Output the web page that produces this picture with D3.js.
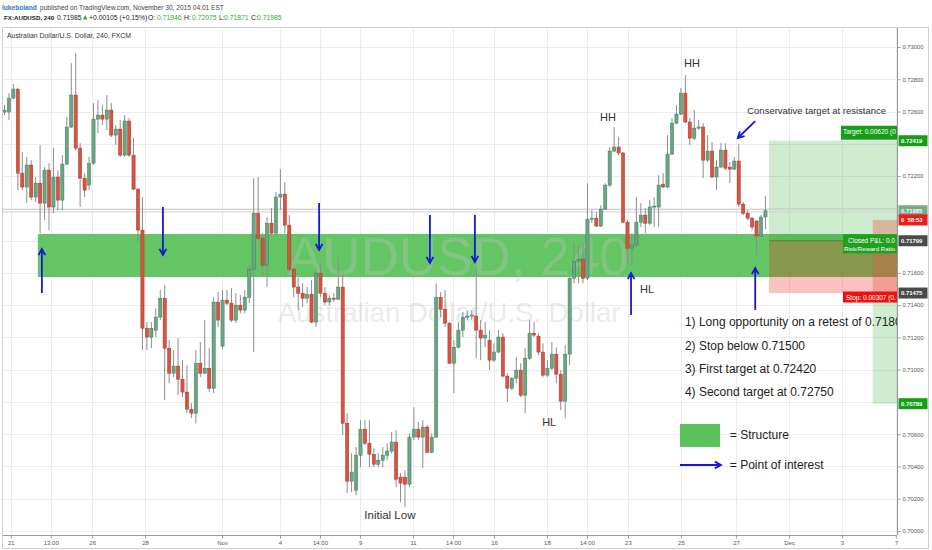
<!DOCTYPE html>
<html>
<head>
<meta charset="utf-8">
<script src="https://cdn.jsdelivr.net/npm/d3@7"></script>
<style>
body { margin: 0; background: #fff; }
svg { display: block; font-family: "Liberation Sans", Arial, sans-serif; }
</style>
</head>
<body>
<div id="chart"></div>
<script>

// AUDUSD 240 candles (bar index 0 = first visible bar)
const opens = [0.72597,0.72597,0.72683,0.72739,0.72218,0.72132,0.72268,0.72070,0.72156,0.72032,0.72237,0.72008,0.72194,0.72051,0.72274,0.72504,0.72702,0.72373,0.72187,0.72144,0.72280,0.72553,0.72578,0.72553,0.72609,0.72454,0.72491,0.72330,0.72541,0.72330,0.72119,0.71865,0.71257,0.71202,0.71245,0.71326,0.71443,0.71133,0.70978,0.71022,0.70941,0.70861,0.70755,0.70730,0.71040,0.70978,0.71009,0.70885,0.71419,0.71146,0.71431,0.71412,0.71307,0.71400,0.71369,0.71449,0.71623,0.71970,0.71815,0.71648,0.71908,0.71846,0.72070,0.72088,0.71896,0.71623,0.71512,0.71474,0.71443,0.71468,0.71295,0.71598,0.71474,0.71419,0.71443,0.71437,0.71512,0.70668,0.70309,0.70253,0.70470,0.70631,0.70544,0.70476,0.70414,0.70439,0.70470,0.70495,0.70551,0.70334,0.70334,0.70290,0.70582,0.70631,0.70582,0.70644,0.70488,0.70582,0.71449,0.71375,0.71288,0.71040,0.71139,0.71245,0.71326,0.71332,0.71332,0.71245,0.71196,0.71183,0.71059,0.71109,0.71202,0.70960,0.70885,0.70947,0.70997,0.70842,0.71071,0.71226,0.71208,0.71109,0.70966,0.71009,0.71096,0.70972,0.70805,0.71096,0.71567,0.71673,0.71685,0.71567,0.71933,0.71939,0.71890,0.71995,0.72144,0.72355,0.72380,0.72343,0.71914,0.71753,0.71772,0.71914,0.71958,0.71908,0.72008,0.72008,0.72150,0.72132,0.72336,0.72528,0.72584,0.72714,0.72535,0.72435,0.72497,0.72504,0.72299,0.72355,0.72194,0.72256,0.72361,0.72256,0.72243,0.72293,0.72026,0.71970,0.71939,0.71921,0.71828,0.71946];
const highs = [0.72640,0.72714,0.72770,0.72745,0.72349,0.72318,0.72299,0.72194,0.72392,0.72256,0.72280,0.72373,0.72237,0.72330,0.72566,0.72900,0.72962,0.72404,0.72218,0.72318,0.72652,0.72671,0.72640,0.72702,0.72652,0.72516,0.72547,0.72578,0.72559,0.72435,0.72125,0.72070,0.71295,0.71295,0.71381,0.71493,0.71524,0.71183,0.71121,0.71195,0.71059,0.71028,0.70792,0.71121,0.71171,0.71307,0.71133,0.71449,0.71481,0.71493,0.71493,0.71505,0.71474,0.71462,0.71493,0.71660,0.72187,0.72194,0.71846,0.71946,0.72001,0.72101,0.72243,0.72163,0.71958,0.71636,0.71574,0.71536,0.71512,0.71555,0.71629,0.71660,0.71512,0.71462,0.71474,0.71698,0.71598,0.70730,0.70482,0.70520,0.70687,0.70687,0.70687,0.70513,0.70482,0.70520,0.70544,0.70613,0.70625,0.70359,0.70377,0.70606,0.70767,0.70675,0.70687,0.70656,0.70606,0.71536,0.71481,0.71493,0.71295,0.71183,0.71295,0.71357,0.71363,0.71369,0.71617,0.71307,0.71295,0.71245,0.71164,0.71245,0.71226,0.70978,0.70954,0.71078,0.71040,0.71133,0.71307,0.71295,0.71226,0.71164,0.71059,0.71171,0.71139,0.70997,0.71152,0.71574,0.71784,0.71772,0.71784,0.72156,0.71989,0.71977,0.72020,0.72156,0.72380,0.72504,0.72442,0.72349,0.71927,0.71846,0.72070,0.72032,0.72001,0.72051,0.72070,0.72206,0.72218,0.72454,0.72559,0.72640,0.72745,0.72826,0.72559,0.72609,0.72547,0.72528,0.72454,0.72411,0.72299,0.72404,0.72404,0.72287,0.72318,0.72398,0.72039,0.71989,0.71946,0.71927,0.71958,0.72075];
const lows = [0.72578,0.72547,0.72680,0.72113,0.72113,0.72032,0.72051,0.72039,0.71846,0.71927,0.71865,0.71970,0.71989,0.71989,0.72268,0.72497,0.72361,0.72008,0.72070,0.72113,0.72268,0.72466,0.72516,0.72485,0.72442,0.72392,0.72318,0.72318,0.72318,0.72113,0.71791,0.71121,0.71121,0.71133,0.71202,0.71307,0.70811,0.70916,0.70954,0.70842,0.70830,0.70730,0.70699,0.70668,0.70954,0.70975,0.70861,0.70855,0.71264,0.71127,0.71400,0.71295,0.71288,0.71350,0.71350,0.71412,0.71109,0.71803,0.71574,0.71512,0.71834,0.71834,0.71989,0.71846,0.71605,0.71449,0.71369,0.71388,0.71412,0.71288,0.71264,0.71449,0.71400,0.71400,0.71419,0.71431,0.70594,0.70234,0.70241,0.70222,0.70396,0.70532,0.70396,0.70396,0.70396,0.70396,0.70439,0.70482,0.70272,0.70179,0.70148,0.70272,0.70563,0.70563,0.70390,0.70482,0.70482,0.70576,0.71326,0.71264,0.71034,0.70855,0.71133,0.71202,0.71307,0.71307,0.71071,0.71059,0.71139,0.70997,0.71047,0.71102,0.70954,0.70799,0.70873,0.70916,0.70830,0.70730,0.71059,0.71202,0.71090,0.70954,0.70954,0.70997,0.70916,0.70749,0.70699,0.71028,0.71536,0.71536,0.71536,0.71555,0.71908,0.71884,0.71884,0.71989,0.72132,0.72349,0.72330,0.71908,0.71660,0.71648,0.71760,0.71884,0.71846,0.71896,0.71884,0.71884,0.72125,0.72125,0.72330,0.72522,0.72578,0.72528,0.72392,0.72423,0.72485,0.72187,0.72287,0.72187,0.72113,0.72249,0.72237,0.72156,0.72237,0.72008,0.71958,0.71927,0.71865,0.71710,0.71822,0.71871];
const closes = [0.72609,0.72683,0.72739,0.72218,0.72132,0.72268,0.72070,0.72156,0.72032,0.72237,0.72008,0.72194,0.72051,0.72274,0.72504,0.72702,0.72373,0.72187,0.72113,0.72280,0.72553,0.72578,0.72553,0.72609,0.72454,0.72491,0.72330,0.72541,0.72330,0.72119,0.71865,0.71257,0.71202,0.71257,0.71326,0.71443,0.71133,0.70978,0.71022,0.70941,0.70861,0.70755,0.70730,0.71040,0.70978,0.71009,0.70885,0.71419,0.71307,0.71431,0.71412,0.71307,0.71400,0.71369,0.71449,0.71623,0.71970,0.71815,0.71648,0.71908,0.71846,0.72070,0.72088,0.71896,0.71623,0.71512,0.71474,0.71443,0.71468,0.71295,0.71598,0.71474,0.71419,0.71443,0.71437,0.71512,0.70668,0.70309,0.70365,0.70470,0.70631,0.70544,0.70476,0.70414,0.70439,0.70470,0.70495,0.70551,0.70321,0.70297,0.70290,0.70582,0.70631,0.70582,0.70644,0.70488,0.70582,0.71449,0.71375,0.71288,0.71040,0.71139,0.71245,0.71326,0.71332,0.71338,0.71245,0.71196,0.71214,0.71059,0.71109,0.71202,0.70960,0.70885,0.70947,0.70997,0.70842,0.71071,0.71226,0.71214,0.71109,0.70966,0.71009,0.71096,0.70972,0.70805,0.71096,0.71567,0.71673,0.71685,0.71567,0.71933,0.71939,0.71890,0.71995,0.72144,0.72355,0.72380,0.72343,0.71914,0.71753,0.71772,0.71914,0.71958,0.71908,0.72008,0.72014,0.72144,0.72132,0.72336,0.72528,0.72584,0.72714,0.72535,0.72435,0.72497,0.72504,0.72299,0.72355,0.72194,0.72256,0.72361,0.72249,0.72243,0.72293,0.72026,0.71970,0.71939,0.71884,0.71828,0.71946,0.71985];

// time axis: bar index of each label, and the label
const timeTicks = [1.4,10.4,19.7,31.6,48.9,61.9,70.9,79.9,91.8,100.8,110,121.9,130.9,140.1,152,164.4,176.3,188.2,200.3];
const timeLabels = ["21","13:00","26","28","Nov","4","14:00","9","11","14:00","16","18","14:00","23","25","27","Dec","3","7"];
const priceTicks = d3.range(0.70, 0.7301, 0.002);

// drawings on the chart (bar index / price)
const structure = {from: 7.5, top: 0.71841, bottom: 0.71574};
const position = {from: 171.8, entry: 0.71799, target: 0.72419, stop: 0.71475};
const sideBox = {from: 195.1, top: 0.71928, stop: 0.71475, target: 0.70789};
const arrows = [
    {i1: 8.4,   p1: 0.71475, i2: 8.4,   p2: 0.71748},
    {i1: 35.6,  p1: 0.72008, i2: 35.6,  p2: 0.71711},
    {i1: 70.7,  p1: 0.72033, i2: 70.7,  p2: 0.71742},
    {i1: 95.6,  p1: 0.71959, i2: 95.6,  p2: 0.71661},
    {i1: 105.7, p1: 0.71959, i2: 105.7, p2: 0.71667},
    {i1: 140.8, p1: 0.71339, i2: 140.8, p2: 0.71599},
    {i1: 168.7, p1: 0.71370, i2: 168.7, p2: 0.71630},
    {i1: 168.7, p1: 0.72541, i2: 164.8, p2: 0.72436}
];
const notes = [
    {text: "HH", i: 154.5, p: 0.72876, anchor: "middle", size: 11},
    {text: "HH", i: 135.6, p: 0.72541, anchor: "middle", size: 11},
    {text: "HL", i: 144.4, p: 0.71475, anchor: "middle", size: 11},
    {text: "HL", i: 122.4, p: 0.70651, anchor: "middle", size: 11},
    {text: "Initial Low", i: 86.6, p: 0.70074, anchor: "middle", size: 11.5},
    {text: "Conservative target at resistance", i: 166.9, p: 0.72585, anchor: "start", size: 9.5}
];
const planLines = [
    "1) Long opportunity on a retest of 0.71800",
    "2) Stop below 0.71500",
    "3) First target at 0.72420",
    "4) Second target at 0.72750"
];
const planPrices = [0.71271, 0.71125, 0.70982, 0.70837];
const scaleTags = [
    {p: 0.72419, t: "0.72419", c: "#179e17"},
    {p: 0.71985, t: "0.71985", c: "#79a88c"},
    {p: 0.71928, t: "0  58:53", c: "#ee1c1c"},
    {p: 0.71799, t: "0.71799", c: "#4a4a4a"},
    {p: 0.71475, t: "0.71475", c: "#4a4a4a"},
    {p: 0.70789, t: "0.70789", c: "#179e17"}
];

const width = 932;
const height = 550;
const plot = {left: 3, right: 897, top: 28, bottom: 535};

const svg = d3.select("#chart")
    .append("svg")
    .attr("width", width)
    .attr("height", height);

const x = d3.scaleLinear().domain([0, 200]).range([4.5, 894.5]);
const y = d3.scaleLinear().domain([0.70, 0.73]).range([531, 47]);

svg.append("clipPath").attr("id", "plotclip")
    .append("rect")
    .attr("x", plot.left).attr("y", plot.top)
    .attr("width", plot.right - plot.left).attr("height", plot.bottom - plot.top);

// header
const head1 = svg.append("text").attr("y", 9.5).attr("font-size", 6.6);
head1.append("tspan").attr("x", 2).attr("fill", "#2b78c5").attr("font-weight", "bold").text("lukeboland");
head1.append("tspan").attr("x", 40).attr("fill", "#444").text("published on TradingView.com, November 30, 2015 04:01 EST");

const green = "#36a836";
const head2 = [
    {t: "FX:AUDUSD, 240", x: 4, c: "#222", b: true, s: 6.2},
    {t: "0.71985", x: 57, c: "#222"},
    {t: "+0.00105 (+0.15%)", x: 89, c: "#222"},
    {t: "O:", x: 148, c: "#222"},
    {t: "0.71946", x: 157, c: green},
    {t: "H:", x: 184, c: "#222"},
    {t: "0.72075", x: 192, c: green},
    {t: "L:", x: 219, c: "#222"},
    {t: "0.71871", x: 224, c: green},
    {t: "C:", x: 251, c: "#222"},
    {t: "0.71985", x: 257, c: green}
];
svg.selectAll(".h2").data(head2).enter().append("text")
    .attr("x", d => d.x).attr("y", 20)
    .attr("font-size", d => d.s || 6.8)
    .attr("font-weight", d => d.b ? "bold" : "normal")
    .attr("fill", d => d.c)
    .text(d => d.t);
svg.append("path").attr("d", "M83,19.5 L87.5,19.5 L85.25,15 Z").attr("fill", green);

// frame
svg.append("rect")
    .attr("x", 2.5).attr("y", 27.5).attr("width", 926).attr("height", 521)
    .attr("fill", "none").attr("stroke", "#cfcfcf");

const pane = svg.append("g").attr("clip-path", "url(#plotclip)");

// grid
pane.selectAll(".hgrid").data(priceTicks).enter().append("line")
    .attr("x1", plot.left).attr("x2", plot.right)
    .attr("y1", d => Math.round(y(d)) + 0.5).attr("y2", d => Math.round(y(d)) + 0.5)
    .attr("stroke", "#ececec");
pane.selectAll(".vgrid").data(timeTicks).enter().append("line")
    .attr("x1", d => Math.round(x(d)) + 0.5).attr("x2", d => Math.round(x(d)) + 0.5)
    .attr("y1", plot.top).attr("y2", plot.bottom)
    .attr("stroke", "#ececec");

// structure zone
const bandFill = "#5bc25b";
pane.append("rect")
    .attr("x", x(structure.from)).attr("y", y(structure.top))
    .attr("width", plot.right - x(structure.from))
    .attr("height", y(structure.bottom) - y(structure.top))
    .attr("fill", bandFill).attr("opacity", 0.95);

// watermark
pane.append("text")
    .attr("x", 287).attr("y", 275)
    .attr("font-size", 53)
    .attr("fill", "#c4c4c4").attr("opacity", 0.33)
    .text("AUDUSD, 240");
pane.append("text")
    .attr("x", 278).attr("y", 322)
    .attr("font-size", 27.5)
    .attr("fill", "#c4c4c4").attr("opacity", 0.33)
    .text("Australian Dollar/U.S. Dollar");

// long position tool
pane.append("rect")
    .attr("x", x(position.from)).attr("y", y(position.target))
    .attr("width", plot.right - x(position.from))
    .attr("height", y(position.entry) - y(position.target))
    .attr("fill", "rgba(40,170,40,0.22)");
pane.append("rect")
    .attr("x", x(position.from)).attr("y", y(position.entry))
    .attr("width", plot.right - x(position.from))
    .attr("height", y(position.stop) - y(position.entry))
    .attr("fill", "rgba(240,20,20,0.26)");
pane.append("line")
    .attr("x1", x(position.from)).attr("x2", plot.right)
    .attr("y1", y(position.entry)).attr("y2", y(position.entry))
    .attr("stroke", "#5a6a3a").attr("stroke-width", 1.2).attr("opacity", 0.7);

pane.append("rect")
    .attr("x", x(sideBox.from)).attr("y", y(sideBox.top))
    .attr("width", plot.right - x(sideBox.from))
    .attr("height", y(sideBox.stop) - y(sideBox.top))
    .attr("fill", "rgba(225,90,70,0.35)");
pane.append("rect")
    .attr("x", x(sideBox.from)).attr("y", y(sideBox.stop))
    .attr("width", plot.right - x(sideBox.from))
    .attr("height", y(sideBox.target) - y(sideBox.stop))
    .attr("fill", "rgba(40,170,40,0.22)");

// last price line
const lastY = y(closes[closes.length - 1]);
[-1.2, 1.2].forEach(off => {
    pane.append("line")
        .attr("x1", plot.left).attr("x2", plot.right)
        .attr("y1", lastY + off).attr("y2", lastY + off)
        .attr("stroke", "#d2d2d2");
});

// candles
const candles = d3.range(opens.length).map(i => ({i: i, o: opens[i], h: highs[i], l: lows[i], c: closes[i]}));

pane.selectAll(".wick").data(candles).enter().append("line")
    .attr("x1", d => x(d.i)).attr("x2", d => x(d.i))
    .attr("y1", d => y(d.h)).attr("y2", d => y(d.l))
    .attr("stroke", "#8d8d8d").attr("stroke-width", 1);

pane.selectAll(".body").data(candles).enter().append("rect")
    .attr("x", d => x(d.i) - 1.6)
    .attr("width", 3.2)
    .attr("y", d => y(Math.max(d.o, d.c)))
    .attr("height", d => Math.max(1, Math.abs(y(d.o) - y(d.c))))
    .attr("fill", d => d.c >= d.o ? "#6ba583" : "#d75442")
    .attr("stroke", d => d.c >= d.o ? "#3f7c5c" : "#a33a2a")
    .attr("stroke-width", 0.5);

// position labels, cut at the price scale like in the picture
function tag(x0, yc, h, fill, lines) {
    pane.append("rect")
        .attr("x", x0).attr("y", yc - h / 2)
        .attr("width", plot.right - x0).attr("height", h)
        .attr("fill", fill);
    lines.forEach((l, k) => {
        pane.append("text")
            .attr("x", l.x).attr("y", yc - h / 2 + 8.5 + k * 8.5)
            .attr("font-size", l.s || 6.5).attr("fill", "#fff")
            .text(l.t);
    });
}
tag(841, y(position.target) - 8, 14, "#179e17", [{x: 843, t: "Target: 0.00620 (0"}]);
tag(843, y(position.entry) + 3, 19, "#1fa01f", [{x: 848, t: "Closed P&L: 0.0"}, {x: 844, t: "Risk/Reward Ratio", s: 6.2}]);
tag(843, y(position.stop) + 4, 11, "#ee1111", [{x: 846, t: "Stop: 0.00307 (0."}]);

// arrows
const blue = "#1717d4";
function arrow(g, x1, y1, x2, y2) {
    const a = Math.atan2(y2 - y1, x2 - x1);
    const len = 7, spread = 0.5;
    g.append("line").attr("x1", x1).attr("y1", y1).attr("x2", x2).attr("y2", y2)
        .attr("stroke", blue).attr("stroke-width", 1.8);
    g.append("path")
        .attr("d", `M${x2 - len * Math.cos(a - spread)},${y2 - len * Math.sin(a - spread)} L${x2},${y2} L${x2 - len * Math.cos(a + spread)},${y2 - len * Math.sin(a + spread)}`)
        .attr("fill", "none").attr("stroke", blue).attr("stroke-width", 1.8);
}
arrows.forEach(d => arrow(pane, x(d.i1), y(d.p1), x(d.i2), y(d.p2)));

// notes
pane.selectAll(".note").data(notes).enter().append("text")
    .attr("x", d => x(d.i)).attr("y", d => y(d.p))
    .attr("text-anchor", d => d.anchor)
    .attr("font-size", d => d.size)
    .attr("fill", "#333")
    .text(d => d.text);

pane.selectAll(".plan").data(planLines).enter().append("text")
    .attr("x", x(152.9)).attr("y", (d, i) => y(planPrices[i]))
    .attr("font-size", 12).attr("fill", "#222")
    .text(d => d);

// legend
pane.append("rect")
    .attr("x", x(151.8)).attr("y", y(0.70663))
    .attr("width", x(160.8) - x(151.8)).attr("height", y(0.70521) - y(0.70663))
    .attr("fill", bandFill);
pane.append("text").attr("x", x(163)).attr("y", y(0.70570))
    .attr("font-size", 12).attr("fill", "#222").text("= Structure");
arrow(pane, x(151.8), y(0.70409), x(161), y(0.70409));
pane.append("text").attr("x", x(163)).attr("y", y(0.70384))
    .attr("font-size", 12).attr("fill", "#222").text("= Point of interest");

// legend of the series
svg.append("text").attr("x", 7).attr("y", 38)
    .attr("font-size", 6.9).attr("fill", "#333")
    .text("Australian Dollar/U.S. Dollar, 240, FXCM");

// axes; scale labels hidden where a price tag sits on top of them
const freeTicks = priceTicks.filter(v => scaleTags.every(t => Math.abs(y(t.p) - y(v)) > 8));
const yAxis = svg.append("g")
    .attr("transform", `translate(${plot.right + 0.5},0)`)
    .call(d3.axisRight(y).tickValues(freeTicks).tickFormat(d3.format(".5f")).tickSize(3).tickPadding(2));
yAxis.select(".domain").attr("stroke", "#999").attr("d", `M0,${plot.top}V${plot.bottom}`);
yAxis.selectAll(".tick line").attr("stroke", "#999");
yAxis.selectAll(".tick text").attr("font-size", 5.8).attr("fill", "#555").attr("font-family", "Liberation Sans, Arial, sans-serif");

const xAxis = svg.append("g")
    .attr("transform", `translate(0,${plot.bottom + 0.5})`)
    .call(d3.axisBottom(x).tickValues(timeTicks).tickFormat((d, i) => timeLabels[i]).tickSize(3).tickPadding(2));
xAxis.select(".domain").attr("stroke", "#999").attr("d", `M${plot.left},0H${plot.right}`);
xAxis.selectAll(".tick line").attr("stroke", "#999");
xAxis.selectAll(".tick text").attr("font-size", 6).attr("fill", "#555").attr("font-family", "Liberation Sans, Arial, sans-serif");

// price scale tags (the countdown tag is partly covered by the 0.71985 tag)
const tagOrder = scaleTags.slice().sort((a, b) => a.t.length < 7 ? -1 : (b.t.length < 7 ? 1 : 0));
const tagG = svg.selectAll(".stag").data(tagOrder).enter().append("g");
tagG.append("rect")
    .attr("x", plot.right + 1.5).attr("y", d => y(d.p) - 5.5)
    .attr("width", 29).attr("height", 11)
    .attr("fill", d => d.c);
tagG.append("text")
    .attr("x", plot.right + 4).attr("y", d => y(d.p) + 2.2)
    .attr("font-size", 5.9).attr("fill", "#fff").attr("font-weight", "bold")
    .attr("xml:space", "preserve")
    .text(d => d.t);

</script>
</body>
</html>
